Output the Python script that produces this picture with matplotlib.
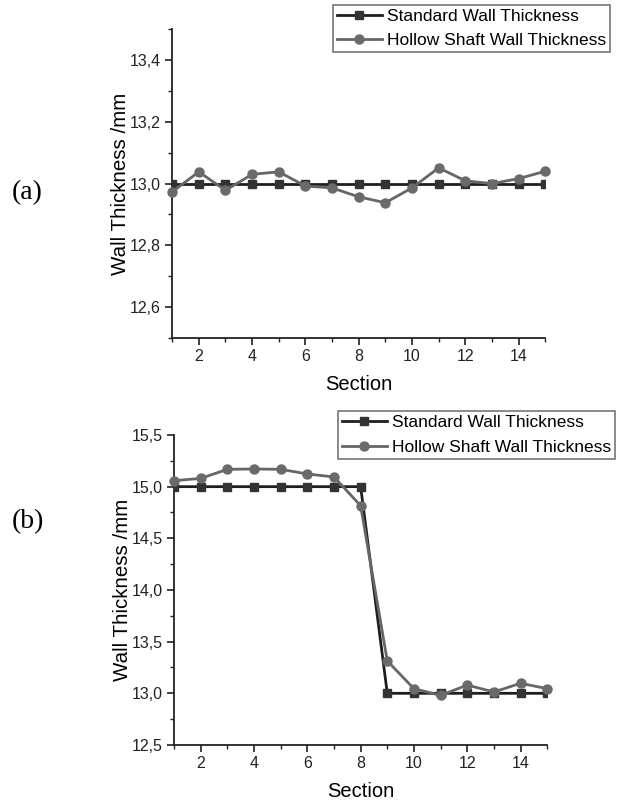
import matplotlib
matplotlib.use("Agg")
import matplotlib.pyplot as plt
from matplotlib.ticker import MultipleLocator, FuncFormatter

plt.rcParams['font.family'] = ['Liberation Sans', 'DejaVu Sans']

sections = list(range(1, 16))
std_a = [13.0] * 15
hollow_a = [12.973, 13.038, 12.978, 13.03, 13.038, 12.992, 12.986, 12.957, 12.938,
            12.986, 13.051, 13.009, 13.0, 13.016, 13.04]
std_b = [15.0] * 8 + [13.0] * 7
hollow_b = [15.058, 15.08, 15.168, 15.171, 15.168, 15.123, 15.094, 14.816, 13.313,
            13.045, 12.98, 13.08, 13.013, 13.097, 13.045]

labels = ["Standard Wall Thickness", "Hollow Shaft Wall Thickness"]
panel_labels = ["(a)", "(b)"]

fig = plt.figure(figsize=(6.4, 8.02), dpi=100)
ax1 = fig.add_axes([0.269, 0.5786, 0.583, 0.385])
ax2 = fig.add_axes([0.272, 0.0711, 0.583, 0.3865])

comma = FuncFormatter(lambda v, p: (f"{v:.1f}").replace('.', ','))
xfmt = FuncFormatter(lambda v, p: f"{int(round(v))}")

def draw(ax, std, hol, ylim, major, minor, leg_anchor):
    ax.plot(sections, std, color='#1e1e1e', lw=2.0, marker='s', ms=5.5,
            mfc='#333333', mec='#333333', label=labels[0], zorder=3)
    ax.plot(sections, hol, color='#666666', lw=2.0, marker='o', ms=6.5,
            mfc='#6a6a6a', mec='#6a6a6a', label=labels[1], zorder=4, clip_on=False)
    ax.set_xlim(1, 15)
    ax.set_ylim(*ylim)
    ax.xaxis.set_major_locator(MultipleLocator(2))
    ax.xaxis.set_minor_locator(MultipleLocator(1))
    ax.xaxis.set_major_formatter(xfmt)
    ax.yaxis.set_major_locator(MultipleLocator(major))
    ax.yaxis.set_minor_locator(MultipleLocator(minor))
    ax.yaxis.set_major_formatter(comma)
    for s in ['top', 'right']:
        ax.spines[s].set_visible(False)
    for s in ['left', 'bottom']:
        ax.spines[s].set_linewidth(1.3)
        ax.spines[s].set_color('#222222')
    ax.tick_params(which='major', direction='out', length=5, width=1.2, labelsize=11.5,
                   colors='#222222', pad=3)
    ax.tick_params(which='minor', direction='out', length=3, width=1.0, colors='#222222')
    ax.set_xlabel("Section", fontsize=14.5, labelpad=8)
    ax.set_ylabel("Wall Thickness /mm", fontsize=14.8, labelpad=0)
    leg = ax.legend(loc='upper right', bbox_to_anchor=leg_anchor, bbox_transform=fig.transFigure,
                    fontsize=12.5, fancybox=False, framealpha=1, edgecolor='#777777',
                    handlelength=2.6, borderpad=0.22, labelspacing=0.55, handletextpad=0.3,
                    borderaxespad=0)
    leg.get_frame().set_linewidth(1.2)

draw(ax1, std_a, hollow_a, (12.5, 13.5), 0.2, 0.1, (0.953, 0.994))
draw(ax2, std_b, hollow_b, (12.5, 15.5), 0.5, 0.25, (0.961, 0.487))

fig.text(0.043, 0.76, panel_labels[0], fontsize=20, family='Liberation Serif', va='center', ha='center')
fig.text(0.043, 0.349, panel_labels[1], fontsize=20, family='Liberation Serif', va='center', ha='center')

fig.savefig("out.png", dpi=100)
